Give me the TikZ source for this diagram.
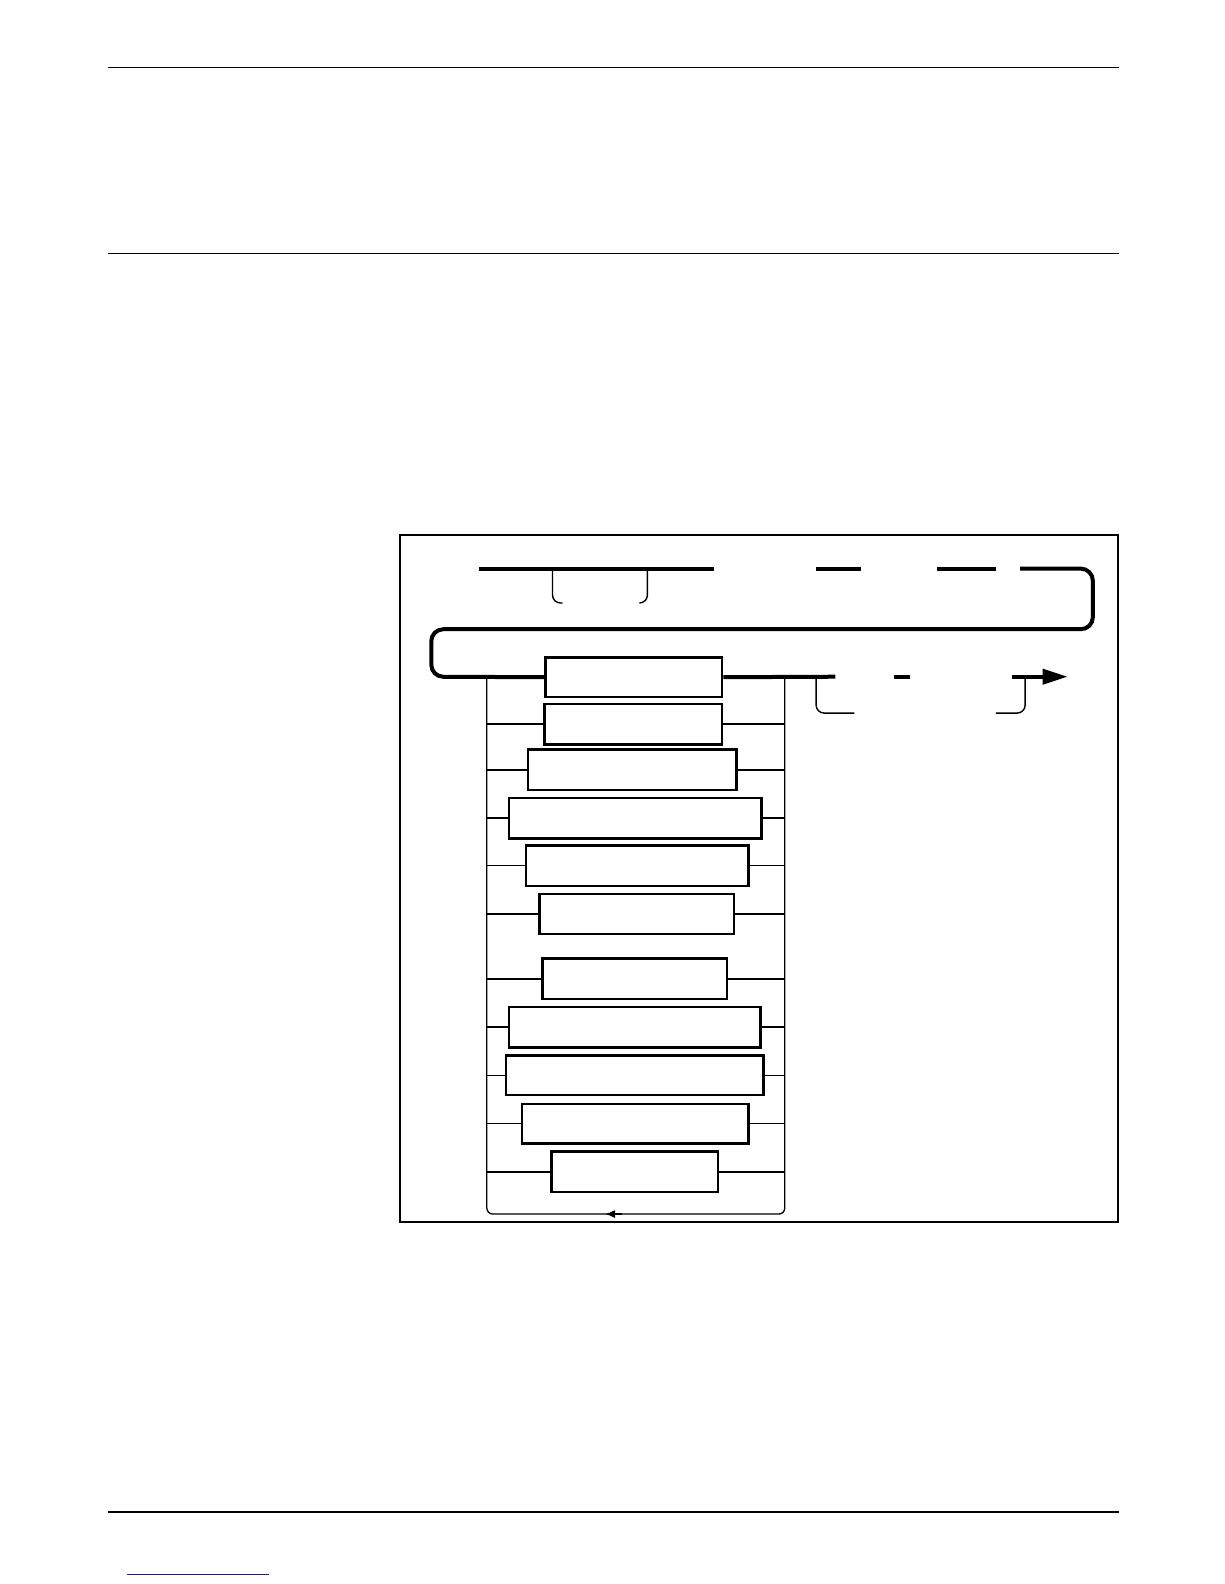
\documentclass[tikz,border=0pt]{standalone}
\usetikzlibrary{fit,arrows.meta}
\definecolor{linkblue}{RGB}{25,25,150}
\tikzset{
  rulel/.style={line width=0.65pt},
  framel/.style={line width=1pt},
  mainl/.style={line width=2pt},
  box/.style={draw, line width=1.2pt, inner sep=0pt, fill=white},
  brthick/.style={line width=1pt},
  brthin/.style={line width=0.6pt},
  hookl/.style={line width=0.7pt, rounded corners=4pt},
  raill/.style={line width=0.65pt},
}
\begin{document}
\begin{tikzpicture}[x=0.505pt,y=-0.505pt]
\useasboundingbox (0,0) rectangle (1211.9,1568.3);
% page rules
\draw[rulel] (107,67) -- (1108,67);
\draw[rulel] (107,251) -- (1108,251);
\draw[rulel] (107,1497) -- (1108,1497);
\draw[linkblue, line width=0.6pt] (126,1559) -- (266,1559);
% frame
\draw[framel] (396,530) rectangle (1107,1210);
% rail coordinates
\coordinate (Ltop) at (482,670);
\coordinate (Rtop) at (777,670);
\coordinate (Lbot) at (482,1202);
\coordinate (Rbot) at (777,1202);
% rails
\draw[raill, rounded corners=3pt] (Ltop) -- (Lbot) -- (Rbot) -- (Rtop);
\coordinate (ra) at (616,1202);
\coordinate (rb) at (599,1202);
\draw[raill, -{Latex[length=5pt,width=4pt]}] (ra) -- (rb);
% top row
\coordinate (t1) at (474,563);
\coordinate (t2) at (707,563);
\draw[mainl] (t1) -- (t2);
\draw[hookl] (547,563) -- (547,597) -- (557,597);
\draw[hookl] (641,563) -- (641,597) -- (633,597);
\coordinate (t3) at (808,563);
\coordinate (t4) at (852,563);
\draw[mainl] (t3) -- (t4);
\coordinate (t5) at (928,563);
\coordinate (t6) at (986,563);
\draw[mainl] (t5) -- (t6);
% boxes
\node[box, fit={(540,651) (715,690)}] (b1) {};
\node[box, fit={(539,697) (715,737)}] (b2) {};
\node[box, fit={(523,742) (729,782)}] (b3) {};
\node[box, fit={(504,790) (754,830)}] (b4) {};
\node[box, fit={(521,837) (741,877)}] (b5) {};
\node[box, fit={(534,885) (727,925)}] (b6) {};
\node[box, fit={(537,949) (720,989)}] (b7) {};
\node[box, fit={(504,997) (753,1037)}] (b8) {};
\node[box, fit={(501,1045) (756,1084)}] (b9) {};
\node[box, fit={(517,1093) (741,1132)}] (b10) {};
\node[box, fit={(546,1140) (711,1180)}] (b11) {};
% main loop into first box
\coordinate (t7) at (1010,563);
\draw[mainl, rounded corners=6pt] (t7) -- (1082,563) -- (1082,623) -- (427,623) -- (427,670) -- (b1.west);
\coordinate (m1) at (827,670);
\draw[mainl] (b1.east) -- (m1);
\coordinate (m2) at (885,670);
\coordinate (m3) at (901,670);
\draw[mainl] (m2) -- (m3);
\coordinate (m4) at (1002,670);
\coordinate (m5) at (1057,670);
\draw[mainl, -{Triangle[length=12.5pt,width=7.5pt]}] (m4) -- (m5);
\draw[hookl] (808,670) -- (808,706) -- (846,706);
\draw[hookl] (1015,670) -- (1015,706) -- (986,706);
% branches
\foreach \b/\s in {b2/brthick,b3/brthick,b4/brthick,b5/brthin,b6/brthin,b7/brthick,b8/brthick,b9/brthin,b10/brthin,b11/brthick}{
  \draw[\s] (Ltop |- \b.west) -- (\b.west);
  \draw[\s] (\b.east) -- (Rtop |- \b.east);
}
\end{tikzpicture}
\end{document}
